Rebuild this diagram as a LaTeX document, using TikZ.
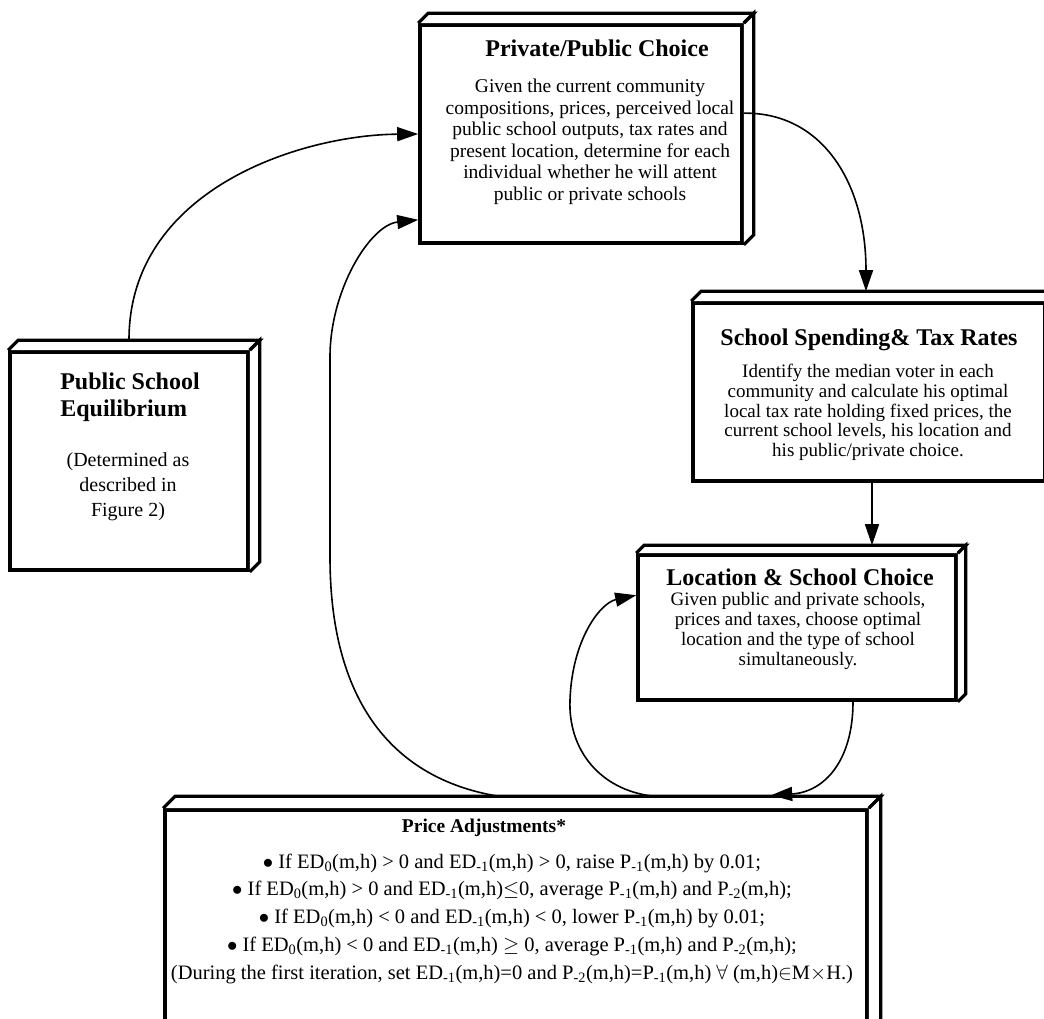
\documentclass[tikz,border=0pt]{standalone}
\usepackage{fontspec}
\setmainfont{Liberation Serif}
\usetikzlibrary{arrows.meta,calc}
\newcommand{\mysub}[1]{\textsubscript{#1}}
\newcommand{\bevelbox}[2]{%
  \draw[bev] (#1.north west) -- ++(#2,-#2) -- ($(#1.north east)+(#2,-#2)$) -- (#1.north east);
  \draw[bev] (#1.north east) -- ++(#2,-#2) -- ($(#1.south east)+(#2,-#2)$) -- (#1.south east);
}
\begin{document}
\begin{tikzpicture}[x=1pt,y=-1pt,
  front/.style={draw, line width=3.6pt, fill=white, inner sep=0pt},
  bev/.style={line width=3.2pt, line join=miter, fill=white},
  ttl/.style={font=\bfseries\fontsize{24}{27}\selectfont, align=center, inner sep=0pt},
  bdy/.style={font=\fontsize{19}{21}\selectfont, align=center, inner sep=0pt},
  conn/.style={line width=1.6pt, -{Triangle[length=21pt,width=14pt]}},
]
\fill[white] (0,0) rectangle (1044,1019);
\useasboundingbox (0,0) rectangle (1044,1019);
\clip (0,0) rectangle (1044,1019);

% boxes
\node[front, minimum width=322pt, minimum height=218pt] (A) at (581,134) {};
\bevelbox{A}{10}
\node[front, minimum width=238pt, minimum height=218pt] (B) at (129,461) {};
\bevelbox{B}{10}
\node[front, minimum width=352pt, minimum height=178pt] (C) at (869,392) {};
\bevelbox{C}{10}
\node[front, minimum width=318pt, minimum height=145pt] (D) at (797,627.5) {};
\bevelbox{D}{8}
\node[front, minimum width=702pt, minimum height=230pt] (E) at (516,925) {};
\bevelbox{E}{12}

% texts
\node[ttl] (At) at (597,48) {Private/Public Choice};
\node[bdy, font=\fontsize{19.5}{21.5}\selectfont] (Ab) at (590,142) {Given the current community\\compositions, prices, perceived local\\public school outputs, tax rates and\\present location, determine for each\\individual whether he will attent\\public or private schools};

\node[ttl, align=left] (Bt) at (130,397) {Public School\\Equilibrium};
\node[bdy, font=\fontsize{20}{25}\selectfont] (Bb) at (128,487) {(Determined as\\described in\\Figure 2)};

\node[ttl] (Ct) at (869,340) {School Spending\& Tax Rates};
\node[bdy, font=\fontsize{19}{19.75}\selectfont] (Cb) at (868,412.5) {Identify the median voter in each\\community and calculate his optimal\\local tax rate holding fixed prices, the\\current school levels, his location and\\his public/private choice.};

\node[ttl] (Dt) at (800,577) {Location \& School Choice};
\node[bdy, font=\fontsize{19}{20}\selectfont] (Db) at (798,631) {Given public and private schools,\\prices and taxes, choose optimal\\location and the type of school\\simultaneously.};

\node[ttl, font=\bfseries\fontsize{19.5}{22}\selectfont] (Et) at (484,828) {Price Adjustments*};
\node[bdy, font=\fontsize{20.5}{27.75}\selectfont] (Eb) at (512,918.5) {%
$\bullet$ If ED\mysub{0}(m,h) {\textgreater} 0 and ED\mysub{-1}(m,h) {\textgreater} 0, raise P\mysub{-1}(m,h) by 0.01;\\
$\bullet$ If ED\mysub{0}(m,h) {\textgreater} 0 and ED\mysub{-1}(m,h)$\leq$0, average P\mysub{-1}(m,h) and P\mysub{-2}(m,h);\\
$\bullet$ If ED\mysub{0}(m,h) {\textless} 0 and ED\mysub{-1}(m,h) {\textless} 0, lower P\mysub{-1}(m,h) by 0.01;\\
$\bullet$ If ED\mysub{0}(m,h) {\textless} 0 and ED\mysub{-1}(m,h) $\geq$ 0, average P\mysub{-1}(m,h) and P\mysub{-2}(m,h);\\
(During the first iteration, set ED\mysub{-1}(m,h)=0 and P\mysub{-2}(m,h)=P\mysub{-1}(m,h) $\forall$ (m,h)$\in$M$\times$H.)};

% attachment points
\coordinate (Btop) at ($(B.north)+(0,-9)$);
\coordinate (Ain1) at ($(A.west)+(0,0)$);
\coordinate (Ain2) at ($(A.south west)+(0,-25)$);
\coordinate (Aout) at ($(A.north east)+(0,90)$);
\coordinate (Ctop) at ($(C.north)+(-3,-10)$);
\coordinate (Cbot) at ($(C.south)+(3,0)$);
\coordinate (Dtop) at ($(D.north)+(75,-8)$);
\coordinate (Din) at ($(D.north west)+(0,42)$);
\coordinate (Dbot) at ($(D.south)+(56,0)$);
\coordinate (Eout1) at ($(E.north west)+(335,-12)$);
\coordinate (Eout2) at ($(E.north west)+(490,-12)$);
\coordinate (Ein) at ($(E.north west)+(608,-13)$);

% connectors
\draw[conn] (Btop) .. controls (128,190) and (300,135) .. (Ain1);
\draw[conn] (Eout1) .. controls (400,780) and (330,710) .. (330,557) -- (330,357) .. controls (330,290) and (370,225) .. (Ain2);
\draw[conn] (Aout) .. controls (820,112) and (866,180) .. (Ctop);
\draw[conn] (Cbot) -- (Dtop);
\draw[conn] (Dbot) .. controls (853,760) and (825,792) .. (Ein);
\draw[conn] (Eout2) .. controls (600,790) and (568,750) .. (570,700) .. controls (572,640) and (600,603) .. (Din);
\end{tikzpicture}
\end{document}
